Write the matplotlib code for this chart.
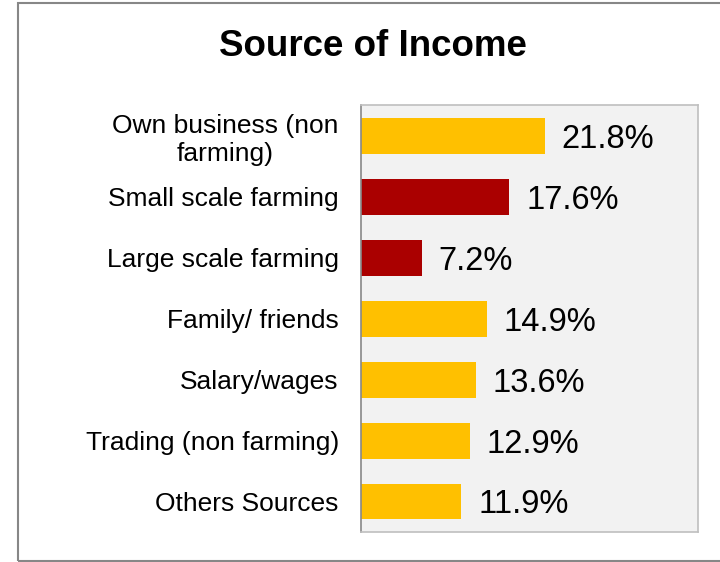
import matplotlib.pyplot as plt
from matplotlib.patches import Rectangle

# data (top to bottom)
categories = ["Own business (non\nfarming)", "Small scale farming", "Large scale farming",
              "Family/ friends", "Salary/wages", "Trading (non farming)", "Others Sources"]
values = [21.8, 17.6, 7.2, 14.9, 13.6, 12.9, 11.9]
bar_colors = ["#FFC000", "#AA0000", "#AA0000", "#FFC000", "#FFC000", "#FFC000", "#FFC000"]

plt.rcParams["font.family"] = ["Liberation Sans", "DejaVu Sans"]

fig = plt.figure(figsize=(7.2, 5.62), dpi=100)
ax = fig.add_axes([0.5014, 0.0534, 0.4686, 0.7596])

# outer chart frame
fig.patches.append(Rectangle((0.025, 0.002), 1.0, 0.993, transform=fig.transFigure,
                             fill=False, edgecolor="#878787", linewidth=1.5))

y = list(range(len(categories)))
ax.barh(y, values, height=0.59, color=bar_colors)
for yi, v in zip(y, values):
    ax.text(v + 2.0, yi, f"{v:.1f}%", va="center_baseline", ha="left", fontsize=23.5, color="black")

ax.set_xlim(0, 40)
ax.set_ylim(len(categories) - 0.5, -0.5)
ax.set_yticks(y)
ax.set_yticklabels(categories, fontsize=19, multialignment="center")
ax.set_xticks([])
ax.tick_params(axis="y", length=0, pad=16)
ax.set_facecolor("#F2F2F2")
for s in ["top", "right", "bottom"]:
    ax.spines[s].set_color("#BFBFBF")
    ax.spines[s].set_linewidth(1.2)
ax.spines["left"].set_color("#888888")
ax.spines["left"].set_linewidth(1.2)

fig.text(0.518, 0.918, "Source of Income", ha="center", va="center",
         fontsize=26.5, fontweight="bold")

plt.savefig("out.png", dpi=100)
plt.close()
